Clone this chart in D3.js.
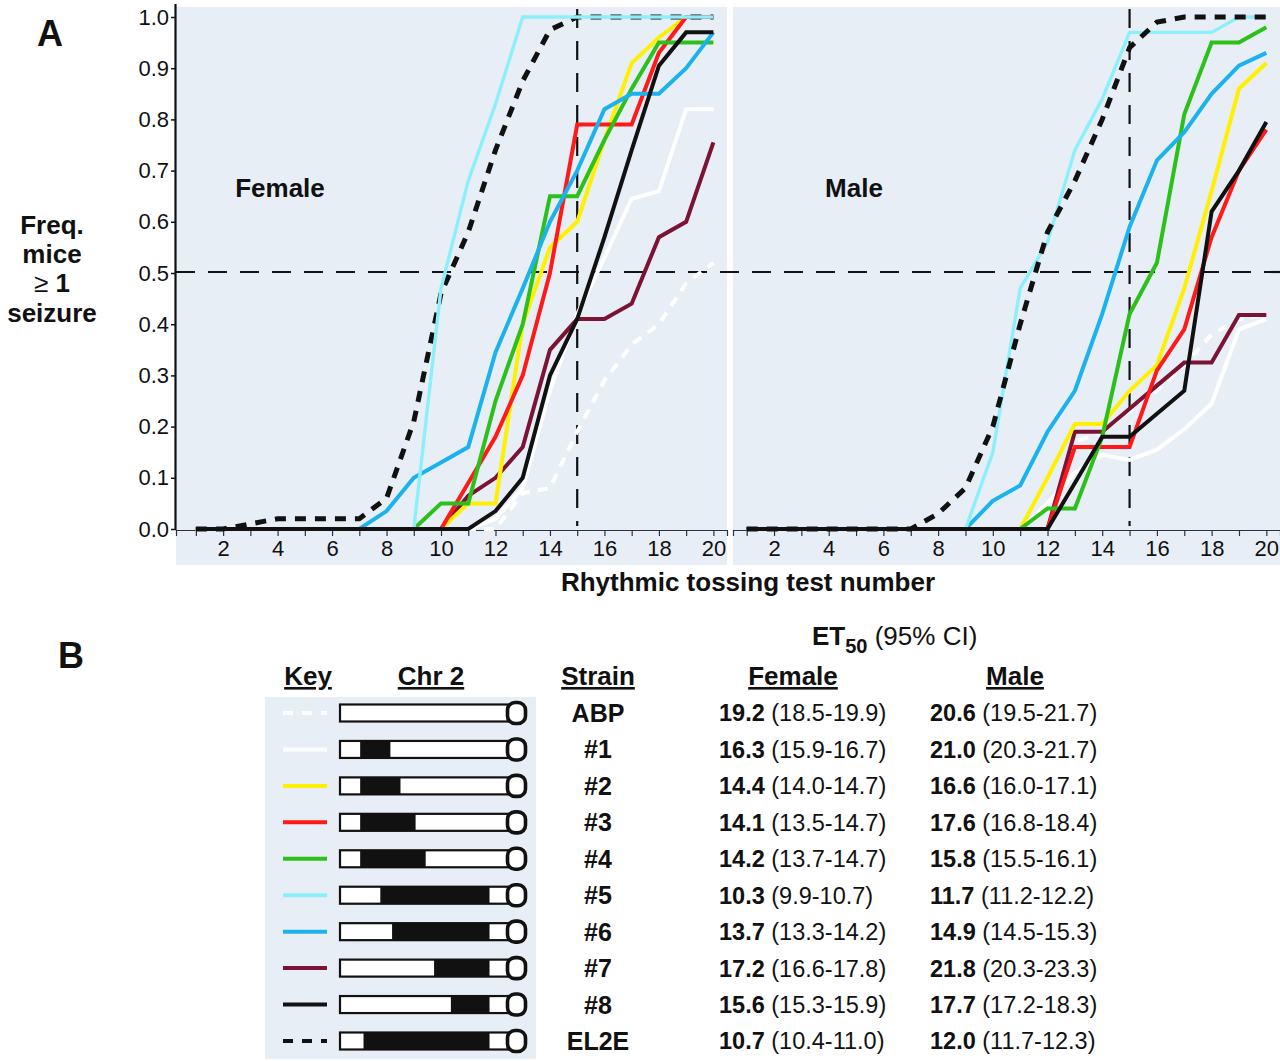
<!DOCTYPE html>
<html>
<head>
<meta charset="utf-8">
<script src="https://cdn.jsdelivr.net/npm/d3@7"></script>
<style>
  body { margin: 0; background: #fff; }
  svg text { font-family: "Liberation Sans", Arial, Helvetica, sans-serif; fill: #111; }
</style>
</head>
<body>
<div class="canva"></div>
<script>
// test numbers on the x axis
const tests = [1,2,3,4,5,6,7,8,9,10,11,12,13,14,15,16,17,18,19,20];
const yTicks = [0,0.1,0.2,0.3,0.4,0.5,0.6,0.7,0.8,0.9,1.0];

const strains = ["ABP","#1","#2","#3","#4","#5","#6","#7","#8","EL2E"];
const strainColors = ["#ffffff","#ffffff","#fff000","#ff1a1a","#2cc01a","#8cf0fa","#1cb2ee","#7c1234","#111111","#111111"];
const strainDash = ["10,8",null,null,null,null,null,null,null,null,"11,9"];

// Female: frequency of mice with >= 1 seizure, tests 1..20
const fABP  = [0,0,0,0,0,0,0,0,0,0,0,0,0.07,0.08,0.19,0.29,0.36,0.40,0.48,0.52];
const f1    = [0,0,0,0,0,0,0,0,0,0,0,0.02,0.08,0.27,0.42,0.53,0.645,0.66,0.82,0.82];
const f2    = [0,0,0,0,0,0,0,0,0,0,0.05,0.05,0.40,0.55,0.60,0.76,0.91,0.96,1.0,1.0];
const f3    = [0,0,0,0,0,0,0,0,0,0,0.09,0.18,0.30,0.50,0.79,0.79,0.79,0.93,1.0,1.0];
const f4    = [0,0,0,0,0,0,0,0,0,0.05,0.05,0.25,0.40,0.65,0.65,0.76,0.86,0.95,0.95,0.95];
const f5    = [0,0,0,0,0,0,0,0,0,0.47,0.68,0.83,1.0,1.0,1.0,1.0,1.0,1.0,1.0,1.0];
const f6    = [0,0,0,0,0,0,0,0.035,0.10,0.13,0.16,0.345,0.47,0.60,0.70,0.82,0.85,0.85,0.90,0.97];
const f7    = [0,0,0,0,0,0,0,0,0,0,0.065,0.10,0.16,0.35,0.41,0.41,0.44,0.57,0.60,0.755];
const f8    = [0,0,0,0,0,0,0,0,0,0,0,0.035,0.10,0.30,0.41,0.57,0.74,0.905,0.97,0.97];
const fEL2E = [0,0,0.01,0.02,0.02,0.02,0.02,0.06,0.21,0.46,0.58,0.74,0.875,0.975,1.0,1.0,1.0,1.0,1.0,1.0];

// Male
const mABP  = [0,0,0,0,0,0,0,0,0,0,0,0,0.17,0.19,0.23,0.27,0.32,0.38,0.41,0.42];
const m1    = [0,0,0,0,0,0,0,0,0,0,0,0.05,0.11,0.145,0.135,0.155,0.195,0.245,0.39,0.41];
const m2    = [0,0,0,0,0,0,0,0,0,0,0,0.10,0.205,0.205,0.27,0.32,0.47,0.66,0.86,0.91];
const m3    = [0,0,0,0,0,0,0,0,0,0,0,0,0.16,0.16,0.16,0.31,0.39,0.57,0.70,0.78];
const m4    = [0,0,0,0,0,0,0,0,0,0,0,0.04,0.04,0.18,0.42,0.52,0.81,0.95,0.95,0.98];
const m5    = [0,0,0,0,0,0,0,0,0,0.15,0.47,0.56,0.74,0.84,0.97,0.97,0.97,0.97,1.0,1.0];
const m6    = [0,0,0,0,0,0,0,0,0,0.055,0.085,0.19,0.27,0.42,0.59,0.72,0.775,0.85,0.905,0.93];
const m7    = [0,0,0,0,0,0,0,0,0,0,0,0,0.19,0.19,0.235,0.28,0.325,0.325,0.418,0.418];
const m8    = [0,0,0,0,0,0,0,0,0,0,0,0,0.09,0.18,0.18,0.225,0.27,0.62,0.70,0.795];
const mEL2E = [0,0,0,0,0,0,0,0.03,0.08,0.20,0.40,0.58,0.68,0.80,0.94,0.99,1.0,1.0,1.0,1.0];

const femaleSeries = [fABP,f1,f2,f3,f4,f5,f6,f7,f8,fEL2E];
const maleSeries = [mABP,m1,m2,m3,m4,m5,m6,m7,m8,mEL2E];

// ET50 table
const et50Female = ["19.2","16.3","14.4","14.1","14.2","10.3","13.7","17.2","15.6","10.7"];
const ciFemale = ["18.5-19.9","15.9-16.7","14.0-14.7","13.5-14.7","13.7-14.7","9.9-10.7","13.3-14.2","16.6-17.8","15.3-15.9","10.4-11.0"];
const et50Male = ["20.6","21.0","16.6","17.6","15.8","11.7","14.9","21.8","17.7","12.0"];
const ciMale = ["19.5-21.7","20.3-21.7","16.0-17.1","16.8-18.4","15.5-16.1","11.2-12.2","14.5-15.3","20.3-23.3","17.2-18.3","11.7-12.3"];

// donor (black) segment on Chr 2, as % of drawn chromosome length
const segStart = [null,12,12,12,12,24,31,56,66,14];
const segEnd   = [null,30,36,45,51,89,89,89,89,89];

// order lines are drawn in (solid black #8 last so the zero baseline is black)
const drawOrderF = [0,1,7,2,3,4,6,9,5,8];
const drawOrderM = [0,1,7,2,3,4,6,5,9,8];

const panelBg = "#e8eef6";

const svg = d3.select(".canva").append("svg")
    .attr("width", 1280)
    .attr("height", 1061);

//Scales
const y = d3.scaleLinear().domain([0, 1]).range([529, 17]);
const xF = d3.scaleLinear().domain([0.27, 20.5]).range([176, 727]);
const xM = d3.scaleLinear().domain([0.5, 20.5]).range([733, 1280]);

//Panels
const panels = [
  {x: xF, data: femaleSeries, order: drawOrderF, label: "Female", labelX: 280},
  {x: xM, data: maleSeries, order: drawOrderM, label: "Male", labelX: 854}
];

panels.forEach(function(p) {
  const r = p.x.range();
  svg.append("rect")
     .attr("x", r[0]).attr("y", 7)
     .attr("width", r[1] - r[0]).attr("height", 558)
     .attr("fill", panelBg);
});

// y axis (female only)
const yAxis = d3.axisLeft(y).tickValues(yTicks).tickSize(5).tickFormat(d3.format(".1f"));
const yG = svg.append("g").attr("transform", "translate(176,0)").call(yAxis);
yG.select(".domain").attr("d", "M-0.5,4V530").attr("stroke", "#111").attr("stroke-width", 2.2);
yG.selectAll(".tick line").attr("stroke", "#111").attr("stroke-width", 1.5);
yG.selectAll("text")
  .attr("x", -7)
  .style("font-size", "22px")
  .attr("fill", "#111");

// x axes
panels.forEach(function(p) {
  const xAxis = d3.axisBottom(p.x)
      .tickValues(tests)
      .tickSize(6)
      .tickFormat(d => d % 2 === 0 ? d : "");
  const g = svg.append("g").attr("transform", "translate(0,530)").call(xAxis);
  g.select(".domain").attr("stroke", "#2a3344").attr("stroke-width", 1.2);
  g.selectAll(".tick line").attr("stroke", "#2a3344").attr("stroke-width", 1.2);
  g.selectAll("text")
    .attr("y", 10)
    .style("font-size", "22px")
    .attr("fill", "#111");
});

// reference lines at 0.5 and test 15
svg.append("line")
   .attr("x1", 176).attr("x2", 1280)
   .attr("y1", y(0.5) - 1).attr("y2", y(0.5) - 1)
   .attr("stroke", "#111").attr("stroke-width", 2.2)
   .attr("stroke-dasharray", "19,13");

panels.forEach(function(p) {
  svg.append("line")
     .attr("x1", p.x(15)).attr("x2", p.x(15))
     .attr("y1", 9).attr("y2", 526)
     .attr("stroke", "#111").attr("stroke-width", 2.2)
     .attr("stroke-dasharray", "19,13");
});

// series lines
panels.forEach(function(p) {
  const line = d3.line()
      .x((d, i) => p.x(tests[i]))
      .y(d => y(d));

  const g = svg.append("g");
  p.order.forEach(function(si) {
    g.append("path")
     .datum(p.data[si])
     .attr("d", line)
     .attr("fill", "none")
     .attr("stroke", strainColors[si])
     .attr("stroke-width", si === 9 ? 5 : (si === 5 ? 3.4 : 4))
     .attr("stroke-linejoin", "miter")
     .attr("stroke-dasharray", strainDash[si]);
  });

  svg.append("text")
     .attr("x", p.labelX).attr("y", 188)
     .attr("dy", "0.35em")
     .attr("text-anchor", "middle")
     .style("font-size", "26px")
     .style("font-weight", "bold")
     .text(p.label);
});

// panel letters and axis titles
svg.append("text").attr("x", 50).attr("y", 46).attr("text-anchor", "middle")
   .style("font-size", "36px").style("font-weight", "bold").text("A");
svg.append("text").attr("x", 71).attr("y", 668).attr("text-anchor", "middle")
   .style("font-size", "36px").style("font-weight", "bold").text("B");

const yTitle = svg.append("text")
   .attr("text-anchor", "middle")
   .style("font-size", "26px")
   .style("font-weight", "bold");
yTitle.append("tspan").attr("x", 52).attr("y", 234).text("Freq.");
yTitle.append("tspan").attr("x", 52).attr("y", 263).text("mice");
const geLine = yTitle.append("tspan").attr("x", 52).attr("y", 292);
geLine.append("tspan").style("font-weight", "normal").text("\u2265");
geLine.append("tspan").text(" 1");
yTitle.append("tspan").attr("x", 52).attr("y", 322).text("seizure");

svg.append("text")
   .attr("x", 748).attr("y", 591)
   .attr("text-anchor", "middle")
   .style("font-size", "26px")
   .style("font-weight", "bold")
   .text("Rhythmic tossing test number");

// ---- Panel B: key table ----
const rowY = d3.scalePoint().domain(strains).range([713, 1041]);
const chr = d3.scaleLinear().domain([0, 100]).range([340, 508]);

svg.append("rect")
   .attr("x", 265).attr("y", 697)
   .attr("width", 271).attr("height", 362)
   .attr("fill", panelBg);

const et = svg.append("text")
   .attr("x", 812).attr("y", 645)
   .style("font-size", "26px");
et.append("tspan").style("font-weight", "bold").text("ET");
et.append("tspan").style("font-weight", "bold").style("font-size", "20px").attr("dy", 8).text("50");
et.append("tspan").attr("dy", -8).text(" (95% CI)");

const headers = [
  {t: "Key", x: 308},
  {t: "Chr 2", x: 431},
  {t: "Strain", x: 598},
  {t: "Female", x: 793},
  {t: "Male", x: 1015}
];
svg.selectAll("text.hdr")
   .data(headers)
   .enter()
   .append("text")
   .attr("class", "hdr")
   .attr("x", d => d.x).attr("y", 685)
   .attr("text-anchor", "middle")
   .style("font-size", "26px")
   .style("font-weight", "bold")
   .style("text-decoration", "underline")
   .text(d => d.t);

const rows = svg.selectAll("g.row")
   .data(strains)
   .enter()
   .append("g")
   .attr("class", "row")
   .attr("transform", d => `translate(0,${rowY(d)})`);

rows.append("line")
    .attr("x1", 283).attr("x2", 327)
    .attr("y1", 0).attr("y2", 0)
    .attr("stroke", (d, i) => strainColors[i])
    .attr("stroke-width", 4)
    .attr("stroke-dasharray", (d, i) => strainDash[i] ? "10,9" : null);

rows.append("rect")
    .attr("x", chr(0)).attr("y", -8.5)
    .attr("width", chr(100) - chr(0)).attr("height", 17)
    .attr("fill", "#fff")
    .attr("stroke", "#111").attr("stroke-width", 2.2);

rows.filter((d, i) => segStart[i] !== null)
    .append("rect")
    .attr("x", d => chr(segStart[strains.indexOf(d)]))
    .attr("y", -8.5)
    .attr("width", d => chr(segEnd[strains.indexOf(d)]) - chr(segStart[strains.indexOf(d)]))
    .attr("height", 17)
    .attr("fill", "#111");

rows.append("rect")
    .attr("x", 507.5).attr("y", -10.5)
    .attr("width", 18).attr("height", 21)
    .attr("rx", 7.5).attr("ry", 7.5)
    .attr("fill", "#fff")
    .attr("stroke", "#111").attr("stroke-width", 3.6);

rows.append("text")
    .attr("x", 598).attr("dy", "0.36em")
    .attr("text-anchor", "middle")
    .style("font-size", "25px")
    .style("font-weight", "bold")
    .text(d => d);

const fText = rows.append("text")
    .attr("x", 719).attr("dy", "0.36em")
    .style("font-size", "23.5px");
fText.append("tspan").style("font-weight", "bold").text((d, i) => et50Female[i]);
fText.append("tspan").text((d, i) => " (" + ciFemale[i] + ")");

const mText = rows.append("text")
    .attr("x", 930).attr("dy", "0.36em")
    .style("font-size", "23.5px");
mText.append("tspan").style("font-weight", "bold").text((d, i) => et50Male[i]);
mText.append("tspan").text((d, i) => " (" + ciMale[i] + ")");
</script>
</body>
</html>
